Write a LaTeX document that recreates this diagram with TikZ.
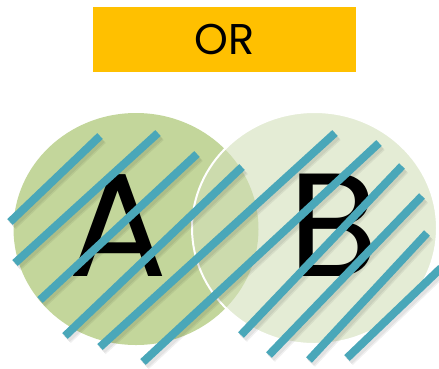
\documentclass[tikz,border=0pt]{standalone}
\usepackage{fontspec}
\setmainfont{Poppins}
\usetikzlibrary{shapes.geometric, positioning}
\definecolor{orgold}{HTML}{FFC000}
\definecolor{setgreen}{HTML}{C3D69B}
\definecolor{setpale}{HTML}{D2DFB9}
\definecolor{hatchteal}{HTML}{4AA7B9}

\begin{document}
\begin{tikzpicture}[
    x=1pt, y=-1pt,
    titlebox/.style={rectangle, fill=orgold, inner sep=0pt, minimum width=263pt, minimum height=65pt, font=\fontsize{43}{43}\selectfont},
    setdisc/.style={ellipse, inner sep=0pt, minimum width=245pt, minimum height=232pt},
    setletter/.style={inner sep=0pt, font=\fontsize{147}{147}\selectfont},
    hatch/.style={draw=hatchteal, line width=8pt},
    hatchshadow/.style={draw=black, opacity=0.06}
]
\useasboundingbox (0,0) rectangle (439,368);

\node[titlebox] (orlabel) at (224.5,39.5) {OR};

% the two sets
\node[setdisc, fill=setgreen] (setA) at (136,229) {};
\node[setletter] (letterA) at (118,226) {A};
\node[setdisc, fill=setpale, fill opacity=0.6, draw=white, line width=2pt] (setB) at (314.5,228) {};
\node[setletter] (letterB) at (334,225) {B};

% hatching over the union
\foreach \xa/\ya/\xb/\yb in {10/222/100/136, 15/263/158/133, 40/300/197/154,
    65/336/242/167, 100/347/335/133, 143/362/379/143, 241/335/402/166,
    269/355/422/196, 309/360/427/233, 347/358/441/268}
{
  \draw[hatchshadow, line width=11pt] (\xa+2,\ya+3) -- (\xb+2,\yb+3);
  \draw[hatchshadow, line width=8pt] (\xa+2,\ya+3) -- (\xb+2,\yb+3);
  \draw[hatch] (\xa,\ya) -- (\xb,\yb);
}
\end{tikzpicture}
\end{document}
